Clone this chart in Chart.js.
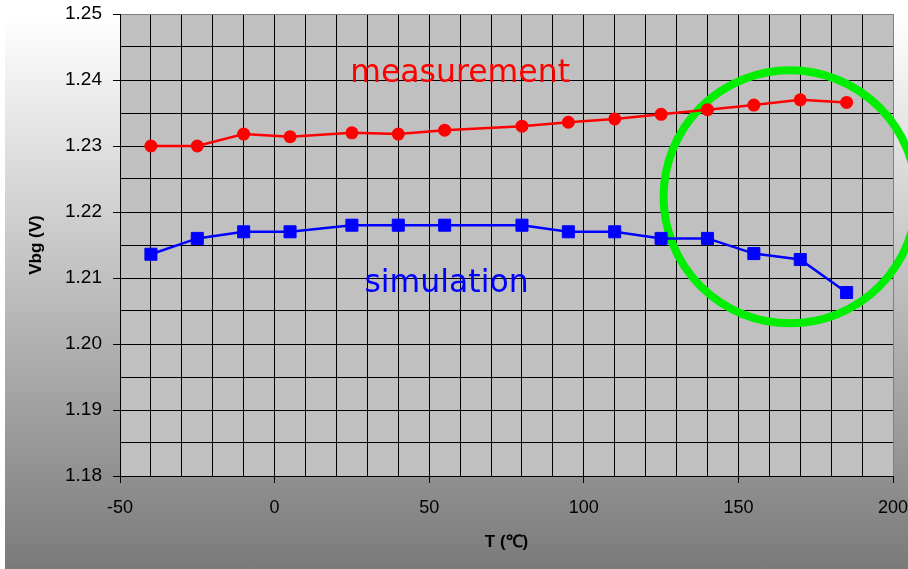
<!DOCTYPE html>
<html><head><meta charset="utf-8">
<script src="https://cdn.jsdelivr.net/npm/chart.js@4/dist/chart.umd.min.js"></script>
<style>
html,body{margin:0;padding:0;background:#fff;overflow:hidden;width:908px;height:569px;position:relative;}
#bg{position:absolute;left:5px;top:17px;right:0;bottom:0;background:linear-gradient(#ffffff,#7a7a7a);}
#wrap{position:absolute;left:0;top:0;width:914px;height:569px;}
</style></head><body>
<div id="bg"></div>
<div id="wrap"><canvas id="c" width="914" height="569"></canvas></div>
<script>
// ---- data ----
const temperatures = [-40, -25, -10, 5, 25, 40, 55, 80, 95, 110, 125, 140, 155, 170, 185];
const measurement  = [1.2300, 1.2300, 1.2318, 1.2314, 1.2320, 1.2318, 1.2324, 1.2330, 1.2336, 1.2341, 1.2348, 1.2355, 1.2362, 1.2370, 1.2366];
const simulation   = [1.2136, 1.2160, 1.2170, 1.2170, 1.2180, 1.2180, 1.2180, 1.2180, 1.2170, 1.2170, 1.2160, 1.2160, 1.2137, 1.2128, 1.2078];
const seriesNames  = ['measurement', 'simulation'];
const xTitle = 'T (\u2103)';
const yTitle = 'Vbg (V)';
const xRange = [-50, 200];
const yRange = [1.18, 1.25];
// in-plot labels: [text, x, y(baseline)]
const labelMeasurement = ['measurement', 60, 1.2397];
const labelSimulation  = ['simulation', 55.6, 1.2079];
// highlight ellipse: center x, center y, radius in x units, radius in y units
const highlight = [166.7, 1.2223, 40.9, 0.01917];

const points = (ys) => temperatures.map((t, i) => ({x: t, y: ys[i]}));

const plotBg = {
  id: 'plotBg',
  beforeDraw(chart) {
    const {ctx, chartArea: a} = chart;
    ctx.save();
    ctx.fillStyle = '#c0c0c0';
    ctx.fillRect(a.left, a.top, a.right - a.left, a.bottom - a.top);
    ctx.restore();
  }
};
const notes = {
  id: 'notes',
  beforeDatasetsDraw(chart) {
    const {ctx, scales: {x, y}} = chart;
    ctx.save();
    ctx.font = '31.5px "DejaVu Sans"';
    ctx.textAlign = 'center';
    ctx.textBaseline = 'alphabetic';
    ctx.fillStyle = '#ff0000';
    ctx.fillText(labelMeasurement[0], x.getPixelForValue(labelMeasurement[1]), y.getPixelForValue(labelMeasurement[2]));
    ctx.fillStyle = '#0000ff';
    ctx.fillText(labelSimulation[0], x.getPixelForValue(labelSimulation[1]), y.getPixelForValue(labelSimulation[2]));
    const cx = x.getPixelForValue(highlight[0]);
    const cy = y.getPixelForValue(highlight[1]);
    const rx = x.getPixelForValue(highlight[0] + highlight[2]) - cx;
    const ry = cy - y.getPixelForValue(highlight[1] + highlight[3]);
    ctx.beginPath();
    ctx.ellipse(cx, cy, rx, ry, 0, 0, Math.PI * 2);
    ctx.strokeStyle = '#00ee00';
    ctx.lineWidth = 8;
    ctx.stroke();
    ctx.restore();
  }
};

new Chart(document.getElementById('c'), {
  type: 'scatter',
  data: {
    datasets: [
      {label: seriesNames[0], data: points(measurement), showLine: true,
       borderColor: '#ff0000', backgroundColor: '#ff0000', borderWidth: 2.5,
       pointStyle: 'circle', pointRadius: 6.5, pointBorderWidth: 0, pointHoverRadius: 6.5},
      {label: seriesNames[1], data: points(simulation), showLine: true,
       borderColor: '#0000ff', backgroundColor: '#0000ff', borderWidth: 2.5,
       pointStyle: 'rect', pointRadius: 8.5, pointBorderWidth: 1, pointHoverRadius: 8.5}
    ]
  },
  options: {
    responsive: false,
    animation: false,
    events: [],
    layout: {padding: {top: 14, right: 21, left: 0, bottom: 0}},
    plugins: {legend: {display: false}, tooltip: {enabled: false}},
    scales: {
      x: {
        type: 'linear', min: xRange[0], max: xRange[1],
        afterFit(s) { s.height = 93; s.paddingLeft = 0; s.paddingRight = 0; },
        border: {display: true, color: '#000', width: 1},
        grid: {
          color: (c) => c.tick && c.tick.value === xRange[1] ? '#808080' : '#000',
          lineWidth: 1, tickLength: 7,
          tickColor: (c) => c.tick && Math.round(c.tick.value) % 50 === 0 ? '#000' : 'rgba(0,0,0,0)'
        },
        ticks: {
          stepSize: 10, autoSkip: false, maxRotation: 0, padding: 14, color: '#000',
          font: {family: '"Liberation Sans", Arial', size: 18},
          callback: (v) => Math.round(v) % 50 === 0 ? String(Math.round(v)) : ''
        },
        title: {display: true, text: xTitle, color: '#000',
          font: {family: '"Liberation Sans", Arial', size: 17, weight: 'bold'},
          padding: {top: 0, bottom: 16}}
      },
      y: {
        type: 'linear', min: yRange[0], max: yRange[1],
        afterFit(s) { s.width = 120; s.paddingTop = 0; s.paddingBottom = 0; },
        border: {display: true, color: '#000', width: 1},
        grid: {
          color: (c) => c.tick && Math.abs(c.tick.value - yRange[1]) < 1e-6 ? '#808080' : '#000',
          lineWidth: 1, tickLength: 7,
          tickColor: (c) => c.tick && Math.round(c.tick.value * 1000) % 10 === 0 ? '#000' : 'rgba(0,0,0,0)'
        },
        ticks: {
          stepSize: 0.005, autoSkip: false, padding: 11, color: '#000',
          font: {family: '"Liberation Sans", Arial', size: 19},
          callback: (v) => Math.round(v * 1000) % 10 === 0 ? v.toFixed(2) : ''
        },
        title: {display: true, text: yTitle, color: '#000',
          font: {family: '"Liberation Sans", Arial', size: 17, weight: 'bold'},
          padding: {top: 26, bottom: 0}}
      }
    }
  },
  plugins: [plotBg, notes]
});
</script>
</body></html>
